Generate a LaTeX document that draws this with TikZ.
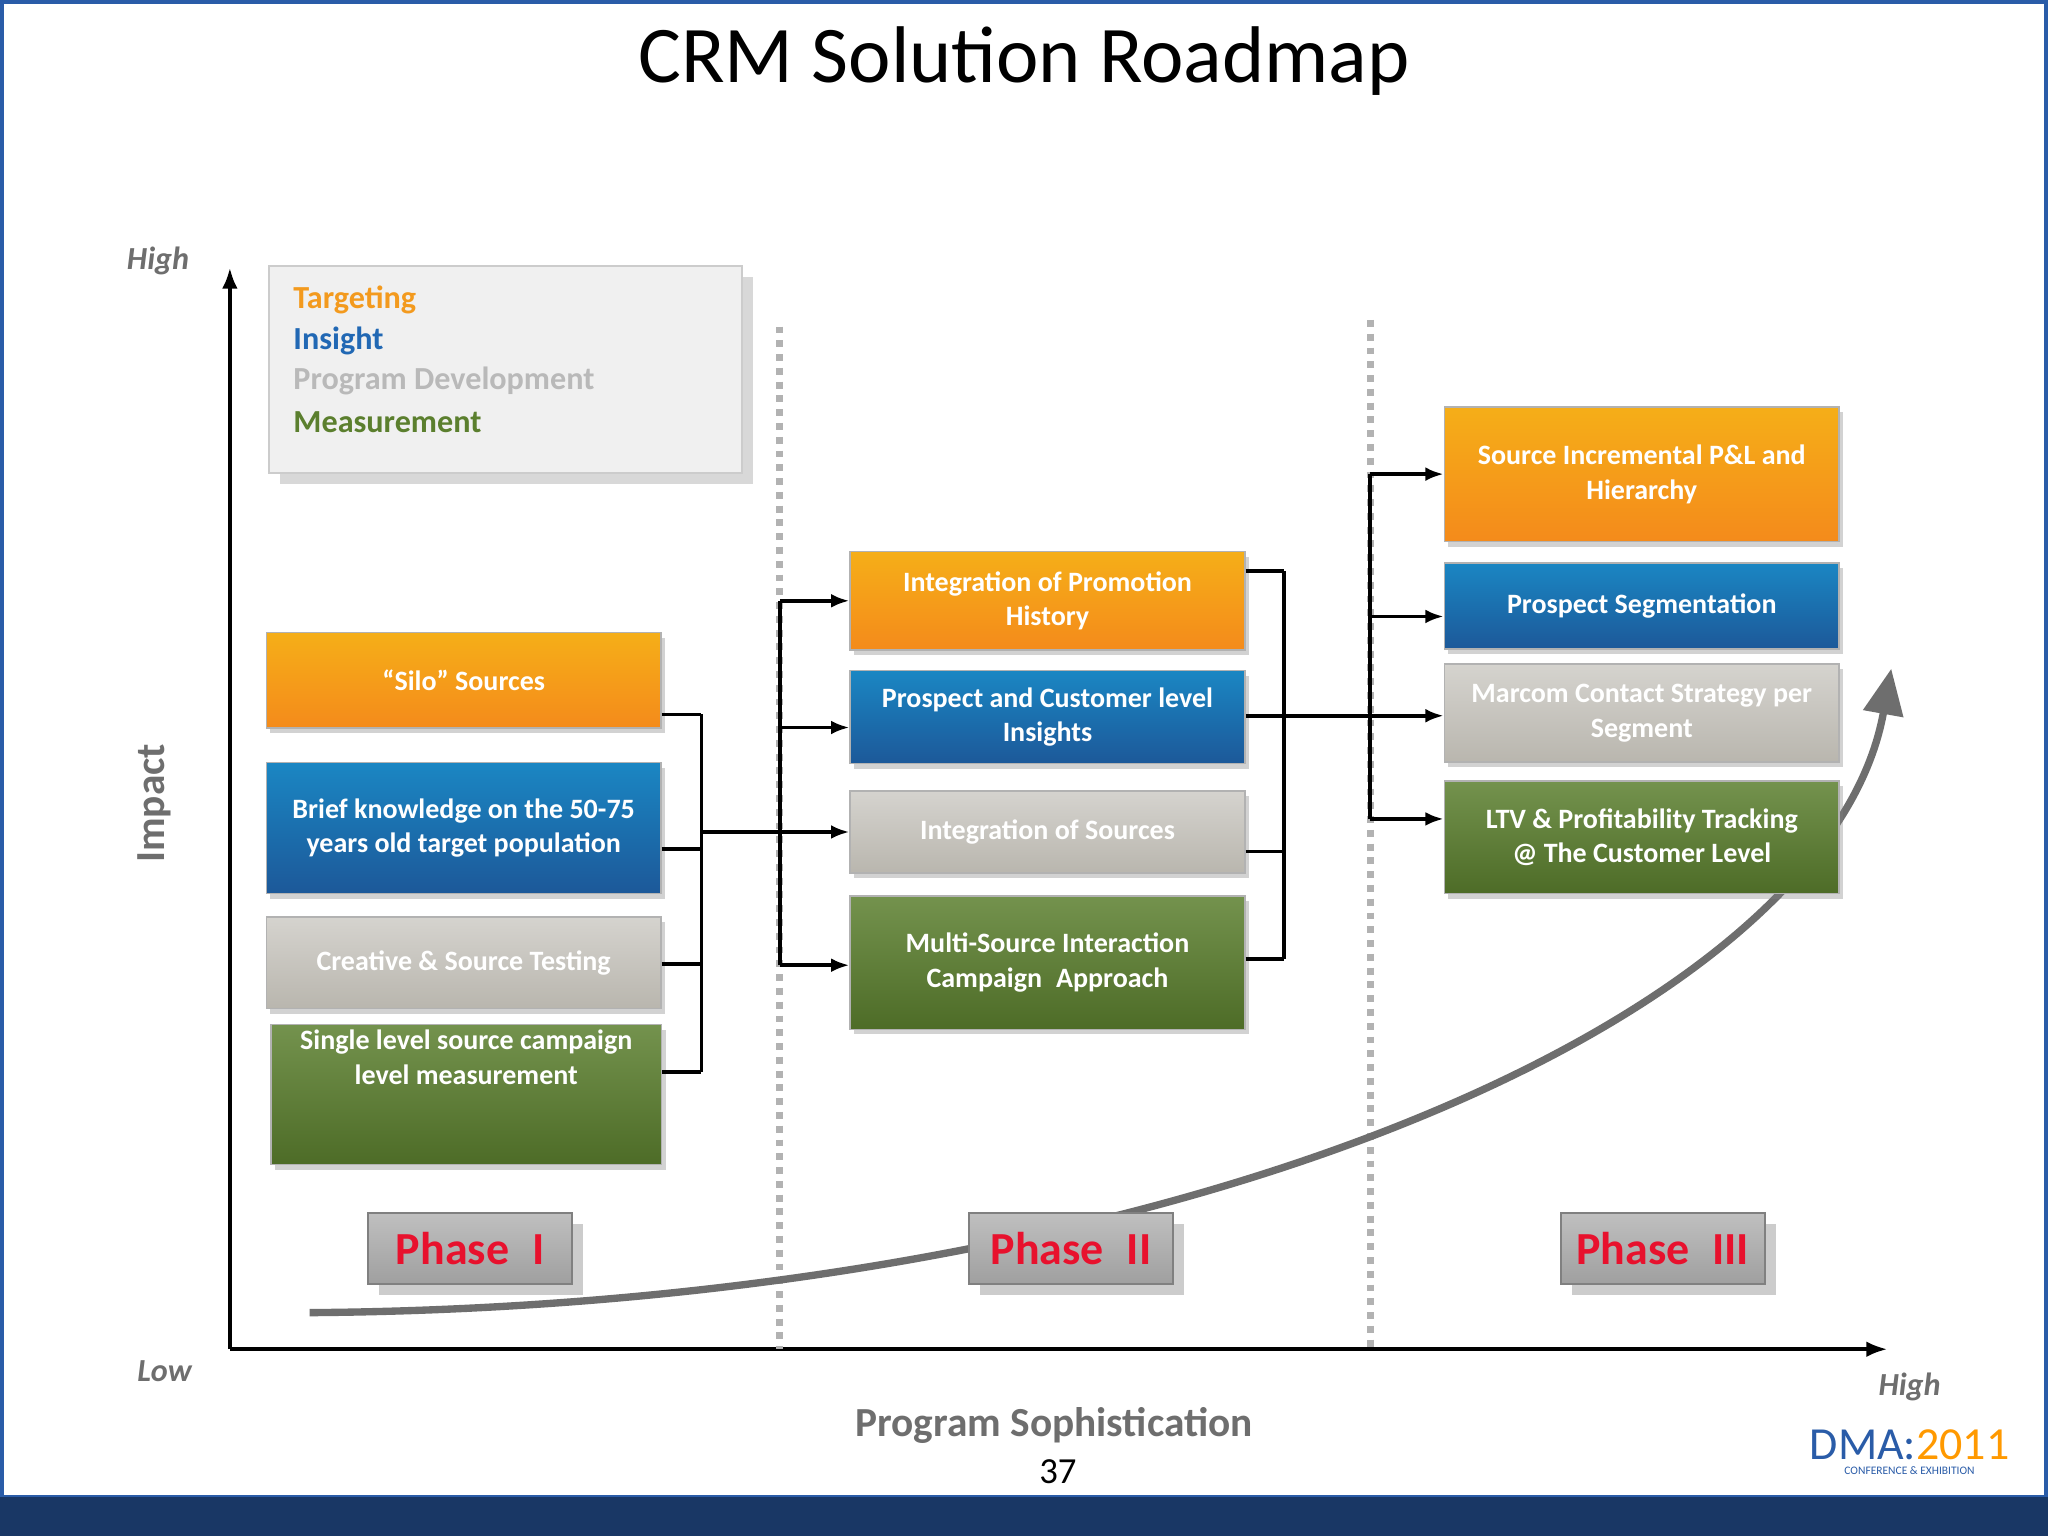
\documentclass[tikz,border=0pt]{standalone}
\usepackage{fontspec}
\setmainfont{Carlito}
\usetikzlibrary{shadows,arrows.meta}
\definecolor{boxorange}{HTML}{F39A1E}
\definecolor{boxblue}{HTML}{2168B4}
\definecolor{boxgray}{HTML}{B9B6AE}
\definecolor{boxgreen}{HTML}{5B7F2E}
\definecolor{axisgray}{HTML}{6E6E6E}
\definecolor{phasered}{HTML}{E8112D}
\definecolor{frameblue}{HTML}{2A5CA8}

\tikzset{
    box/.style={draw=white!70!black, line width=0.3pt, inner sep=0pt, text=white, font=\fontsize{6.1}{7.6}\selectfont\bfseries, align=center, minimum width=3.02cm, drop shadow={opacity=0.35, shadow xshift=0.3mm, shadow yshift=-0.4mm}},
    orangebox/.style={box, top color=boxorange!80!yellow, bottom color=boxorange!90!red},
    bluebox/.style={box, top color=boxblue!80!cyan, bottom color=boxblue!85!black},
    graybox/.style={box, top color=boxgray!60!white, bottom color=boxgray},
    greenbox/.style={box, top color=boxgreen!85!white, bottom color=boxgreen!85!black},
    phase/.style={draw=gray, top color=gray!50, bottom color=gray!75, text=phasered, font=\fontsize{10}{11}\selectfont\bfseries, minimum width=1.56cm, minimum height=0.54cm, drop shadow={opacity=0.4}},
    link/.style={thick},
    arr/.style={thick, -{Latex[length=1.4mm]}},
    axislabel/.style={text=axisgray, font=\fontsize{7}{8}\selectfont\bfseries\itshape}
}

\begin{document}
\begin{tikzpicture}[x=0.01cm, y=-0.01cm]
    \useasboundingbox (0,0) rectangle (1568,1176);
    \fill[white] (0,0) rectangle (1568,1176);
    \draw[frameblue, line width=1pt] (1,1) rectangle (1567,1146);
    \fill[frameblue!60!black] (0,1146) rectangle (1568,1176);

    % Title and axes
    \node (title) at (784,47) {\fontsize{17.5}{21}\selectfont CRM Solution Roadmap};
    \coordinate (origin) at (176,1033);
    \coordinate (ytop) at (176,205);
    \coordinate (xend) at (1445,1033);
    \draw[thick, -{Latex[length=1.6mm]}] (origin) -- (ytop);
    \draw[thick, -{Latex[length=1.6mm]}] (origin) -- (xend);
    \node[axislabel] (yhigh) at (121,200) {High};
    \node[axislabel] (low) at (126,1050) {Low};
    \node[axislabel] (xhigh) at (1462,1062) {High};
    \node[text=axisgray, font=\fontsize{9}{10}\selectfont\bfseries, rotate=90] (impact) at (118,615) {Impact};
    \node[text=axisgray, font=\fontsize{9}{10}\selectfont\bfseries] (soph) at (807,1091) {Program Sophistication};
    \node[font=\fontsize{8}{9}\selectfont] (page) at (810,1127) {37};
    \node[text=frameblue, font=\fontsize{10}{10}\selectfont] (dma) at (1462,1106) {DMA:\textcolor{orange!80!yellow}{2011}};
    \node[text=frameblue, font=\fontsize{2.5}{3}\selectfont] (conf) at (1462,1126) {CONFERENCE \& EXHIBITION};

    % Phase dividers
    \draw[gray!60, line width=1.5pt, dash pattern=on 1.5pt off 1.5pt] (597,250) -- (597,1033);
    \draw[gray!60, line width=1.5pt, dash pattern=on 1.5pt off 1.5pt] (1049,245) -- (1049,1033);

    % Growth curve
    \coordinate (cstart) at (237,1005);
    \coordinate (cend) at (1448,512);
    \draw[axisgray, line width=1.6pt, -{Triangle[length=3.5mm, width=3mm]}] (cstart) .. controls (900,1000) and (1400,780) .. (cend);

    % Legend
    \node[draw=gray!40, fill=gray!12, minimum width=3.62cm, minimum height=1.58cm, drop shadow={opacity=0.3}] (legend) at (387,283) {};
    \node[anchor=west, inner sep=0pt, font=\fontsize{7}{8}\selectfont\bfseries, text=boxorange] (targeting) at (224,230) {Targeting};
    \node[anchor=west, inner sep=0pt, font=\fontsize{7}{8}\selectfont\bfseries, text=boxblue] (insight) at (224,261) {Insight};
    \node[anchor=west, inner sep=0pt, font=\fontsize{7}{8}\selectfont\bfseries, text=gray!55] (progdev) at (224,292) {Program Development};
    \node[anchor=west, inner sep=0pt, font=\fontsize{7}{8}\selectfont\bfseries, text=boxgreen] (measure) at (224,323) {Measurement};

    % Phase I
    \node[orangebox, minimum height=0.73cm] (silo) at (355,521) {``Silo'' Sources};
    \node[bluebox, minimum height=1.0cm] (brief) at (355,634) {Brief knowledge on the 50-75\\years old target population};
    \node[graybox, minimum height=0.7cm] (creative) at (355,737) {Creative \& Source Testing};
    \node[greenbox, minimum height=1.07cm, minimum width=2.99cm] (single) at (357,838) {Single level source campaign\\level measurement\\[1.4em]};

    % Phase II
    \node[orangebox, minimum height=0.75cm] (promo) at (802,460) {Integration of Promotion\\History};
    \node[bluebox, minimum height=0.71cm] (custins) at (802,549) {Prospect and Customer level\\Insights};
    \node[graybox, minimum height=0.63cm] (intsrc) at (802,637) {Integration of Sources};
    \node[greenbox, minimum height=1.02cm] (multi) at (802,737) {Multi-Source Interaction\\Campaign\enspace Approach};

    % Phase III
    \node[orangebox, minimum height=1.03cm] (pnl) at (1257,363) {Source Incremental P\&L and\\Hierarchy};
    \node[bluebox, minimum height=0.66cm] (segment) at (1257,464) {Prospect Segmentation};
    \node[graybox, minimum height=0.75cm] (marcom) at (1257,546) {Marcom Contact Strategy per\\Segment};
    \node[greenbox, minimum height=0.86cm] (ltv) at (1257,641) {LTV \& Profitability Tracking\\@ The Customer Level};

    % Phase labels
    \node[phase] (ph1) at (360,956) {Phase\enspace I};
    \node[phase] (ph2) at (820,956) {Phase\enspace II};
    \node[phase] (ph3) at (1273,956) {Phase\enspace III};

    % Connectors, phase I to II
    \coordinate (b1top) at (537,547);
    \coordinate (b1bot) at (537,821);
    \coordinate (b1mid) at (537,637);
    \coordinate (b2top) at (597,460);
    \coordinate (b2bot) at (597,739);
    \foreach \n/\y in {silo/547, brief/650, creative/738, single/821} {
        \draw[link] (\n.east |- 0,\y) -- (537,\y);
    }
    \draw[link] (b1top) -- (b1bot);
    \draw[arr] (b1mid) -- (intsrc.west);
    \draw[link] (b2top) -- (b2bot);
    \foreach \n/\y in {promo/460, custins/557, multi/739} {
        \draw[arr] (597,\y) -- (\n.west |- 0,\y);
    }

    % Connectors, phase II to III
    \coordinate (b3top) at (983,437);
    \coordinate (b3bot) at (983,734);
    \coordinate (b3mid) at (983,548);
    \coordinate (b4top) at (1049,363);
    \coordinate (b4bot) at (1049,627);
    \foreach \n/\y in {promo/437, custins/548, intsrc/652, multi/734} {
        \draw[link] (\n.east |- 0,\y) -- (983,\y);
    }
    \draw[link] (b3top) -- (b3bot);
    \draw[arr] (b3mid) -- (marcom.west |- b3mid);
    \draw[link] (b4top) -- (b4bot);
    \foreach \n/\y in {pnl/363, segment/472, ltv/627} {
        \draw[arr] (1049,\y) -- (\n.west |- 0,\y);
    }
\end{tikzpicture}
\end{document}
